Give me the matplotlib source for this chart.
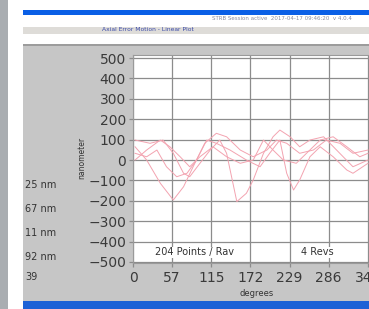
import matplotlib
matplotlib.use("Agg")
import matplotlib.pyplot as plt
from matplotlib.patches import Rectangle

# runout traces (degrees, nanometer)
t1_deg = [3, 20, 40, 59, 74, 88, 105, 122, 137, 157, 176, 196, 210, 225, 244, 264, 283, 303, 322, 344]
t1_val = [65, 0, -114, -196, -131, -33, 82, 131, 114, 49, 16, 49, 98, 82, 33, 49, 98, 82, 33, 49]

t2_deg = [3, 25, 44, 59, 74, 83, 98, 113, 127, 137, 152, 166, 176, 191, 205, 215, 230, 244, 259, 279, 298, 322, 344]
t2_val = [98, 82, 98, 33, -65, -82, -16, 49, 98, 33, -204, -163, -98, 33, 114, 147, 114, 65, 98, 114, 49, -33, 0]

t3_deg = [3, 20, 35, 49, 64, 79, 93, 108, 122, 142, 166, 186, 200, 215, 225, 235, 244, 259, 274, 293, 313, 322, 344]
t3_val = [33, 16, 49, -33, -82, -65, 0, 98, 82, 49, 0, -33, 33, 98, -65, -147, -98, 16, 65, 16, -49, -65, -16]

t4_deg = [3, 20, 40, 54, 69, 83, 98, 117, 137, 157, 176, 191, 205, 220, 239, 254, 274, 293, 313, 332, 344]
t4_val = [0, 49, 98, 65, 16, -33, 16, 65, 16, -16, 0, 98, 49, 0, -16, 33, 98, 114, 65, 16, 33]

x_ticks = [0, 57.3, 114.6, 171.9, 229.2, 286.5, 343.8, 401.1]
x_labels = ["0", "57", "115", "172", "229", "286", "344", ""]
y_ticks = list(range(-500, 501, 100))
side_labels = ["25 nm", "67 nm", "11 nm", "92 nm", "39"]

W, H = 369, 309
fig = plt.figure(figsize=(W / 100, H / 100), dpi=100, facecolor="white")


def box(x0, y0, x1, y1, color):
    # pixel box, y measured from the top
    fig.add_artist(Rectangle((x0 / W, 1 - y1 / H), (x1 - x0) / W, (y1 - y0) / H,
                             transform=fig.transFigure, facecolor=color,
                             edgecolor="none", zorder=0))


# window chrome
box(0, 0, 8, H, "#a9adb1")
box(23, 10, W, 15, "#0a5fe6")
box(23, 27, W, 34, "#dedcd8")
box(23, 44, W, 46, "#9c9c9c")
box(23, 46, W, 301, "#c6c6c6")
box(23, 301, W, H, "#1d62d6")

fig.text(102 / W, 1 - 29.5 / H, "Axial Error Motion - Linear Plot", fontsize=4.3,
         color="#3a4aa8", va="center")
fig.text(212 / W, 1 - 19 / H, "STRB Session active  2017-04-17 09:46:20  v 4.0.4",
         fontsize=4.0, color="#8a8ca0", va="center")

ax = fig.add_axes([133 / W, (H - 263) / H, 274 / W, 208 / H])
ax.set_facecolor("white")
for dv, vv in [(t1_deg, t1_val), (t2_deg, t2_val), (t3_deg, t3_val), (t4_deg, t4_val)]:
    ax.plot(dv, vv, color="#f3a3b0", lw=0.7, zorder=3)

ax.set_xlim(0, 401.1)
ax.set_ylim(-505, 515)
ax.set_xticks(x_ticks)
ax.set_xticklabels(x_labels)
ax.set_yticks(y_ticks)
ax.grid(True, color="#8c8c8c", lw=0.9, zorder=1)
ax.set_axisbelow(True)
ax.tick_params(labelsize=10, labelcolor="#3a3a3a", color="#8c8c8c", length=3,
               width=0.9, pad=2)
ax.tick_params(axis="x", pad=3)
for s in ax.spines.values():
    s.set_color("#9a9a9a")
    s.set_linewidth(0.8)

ax.text(90.7, -452, "204 Points / Rav", fontsize=7, color="#333333", ha="center",
        va="center", zorder=4, bbox=dict(facecolor="white", edgecolor="none", pad=0.3))
ax.text(270, -452, "4 Revs", fontsize=7, color="#333333", ha="center",
        va="center", zorder=4, bbox=dict(facecolor="white", edgecolor="none", pad=0.3))

fig.text(82 / W, 1 - 158 / H, "nanometer", fontsize=5.5, color="#333333",
         rotation=90, ha="center", va="center")
fig.text(257 / W, 1 - 293 / H, "degrees", fontsize=6, color="#333333",
         ha="center", va="center")

for lab, yy in zip(side_labels, [185, 209, 233, 257, 277]):
    fig.text(25 / W, 1 - yy / H, lab, fontsize=7, color="#333333", va="center")

fig.savefig("out.png", dpi=100)
